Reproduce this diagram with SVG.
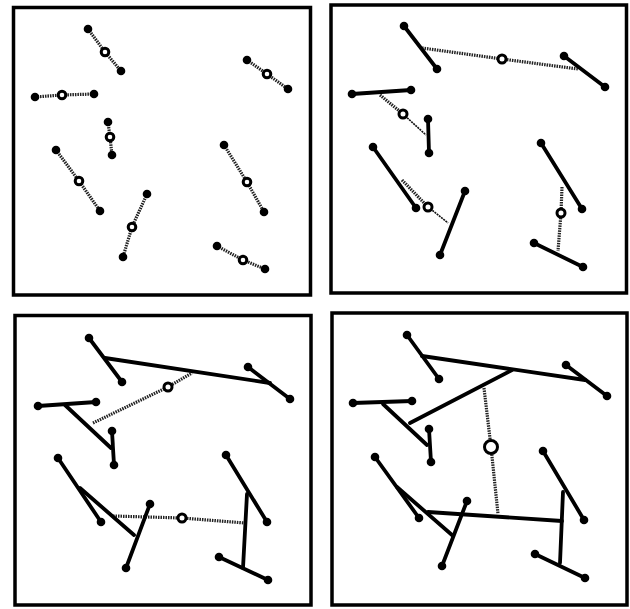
<svg xmlns="http://www.w3.org/2000/svg" width="630" height="609" viewBox="0 0 630 609">
<style>
.frame{fill:none;stroke:#000;stroke-width:3.5}
.bar{stroke:#000;stroke-width:3.8;stroke-linecap:round;fill:none}
.dot{fill:#000}
.spring{stroke:#222;stroke-width:3.2;stroke-dasharray:1.5 1;fill:none}
.thin{stroke:#111;stroke-width:1.6;stroke-dasharray:2 0.8;fill:none}
.ring{fill:#fff;stroke:#000;stroke-width:3}
</style>
<rect width="630" height="609" fill="#fff"/>
<g id="frames">
<rect class="frame" x="13.5" y="7.5" width="297" height="287.5"/>
<rect class="frame" x="331" y="5" width="295.5" height="288"/>
<rect class="frame" x="15" y="315.5" width="296" height="289.5"/>
<rect class="frame" x="332" y="313" width="295" height="292"/>
</g>
<g id="connectors">
<polyline class="spring" points="88,29 105,52 121,71"/>
<polyline class="spring" points="247,60 267,74 288,89"/>
<polyline class="spring" points="35,97 62,95 94,94"/>
<polyline class="spring" points="108,122 110,137 112,155"/>
<polyline class="spring" points="56,150 79,181 100,211"/>
<polyline class="spring" points="224,145 247,182 264,212"/>
<polyline class="spring" points="147,194 132,227 123,257"/>
<polyline class="spring" points="217,246 243,260 265,269"/>
<line class="spring" x1="422" y1="48" x2="502" y2="59"/>
<line class="spring" x1="502" y1="59" x2="578" y2="69"/>
<line class="spring" x1="380" y1="95" x2="403" y2="114"/>
<line class="thin" x1="403" y1="114" x2="426" y2="135"/>
<line class="spring" x1="402" y1="180" x2="428" y2="207"/>
<line class="thin" x1="428" y1="207" x2="448" y2="223"/>
<line class="spring" x1="562" y1="187" x2="561" y2="213"/>
<line class="spring" x1="561" y1="213" x2="558" y2="251"/>
<line class="spring" x1="93" y1="423" x2="168" y2="387"/>
<line class="spring" x1="168" y1="387" x2="192" y2="373"/>
<line class="spring" x1="113" y1="516" x2="182" y2="518"/>
<line class="spring" x1="182" y1="518" x2="245" y2="523"/>
<line class="spring" x1="484" y1="388" x2="491" y2="447"/>
<line class="spring" x1="491" y1="447" x2="498" y2="514"/>
</g>
<g id="panel1-nodes">
<g id="p1-d1"><circle class="dot" cx="88" cy="29" r="4.3"/><circle class="dot" cx="121" cy="71" r="4.3"/><circle class="ring" cx="105" cy="52" r="3.8"/></g>
<g id="p1-d2"><circle class="dot" cx="247" cy="60" r="4.3"/><circle class="dot" cx="288" cy="89" r="4.3"/><circle class="ring" cx="267" cy="74" r="3.8"/></g>
<g id="p1-d3"><circle class="dot" cx="35" cy="97" r="4.3"/><circle class="dot" cx="94" cy="94" r="4.3"/><circle class="ring" cx="62" cy="95" r="3.8"/></g>
<g id="p1-d4"><circle class="dot" cx="108" cy="122" r="4.3"/><circle class="dot" cx="112" cy="155" r="4.3"/><circle class="ring" cx="110" cy="137" r="3.8"/></g>
<g id="p1-d5"><circle class="dot" cx="56" cy="150" r="4.3"/><circle class="dot" cx="100" cy="211" r="4.3"/><circle class="ring" cx="79" cy="181" r="3.8"/></g>
<g id="p1-d6"><circle class="dot" cx="224" cy="145" r="4.3"/><circle class="dot" cx="264" cy="212" r="4.3"/><circle class="ring" cx="247" cy="182" r="3.8"/></g>
<g id="p1-d7"><circle class="dot" cx="147" cy="194" r="4.3"/><circle class="dot" cx="123" cy="257" r="4.3"/><circle class="ring" cx="132" cy="227" r="3.8"/></g>
<g id="p1-d8"><circle class="dot" cx="217" cy="246" r="4.3"/><circle class="dot" cx="265" cy="269" r="4.3"/><circle class="ring" cx="243" cy="260" r="3.8"/></g>
</g>
<g id="panel2-nodes">
<g id="p2-A"><line class="bar" x1="404" y1="26" x2="437" y2="69"/><circle class="dot" cx="404" cy="26" r="4.3"/><circle class="dot" cx="437" cy="69" r="4.3"/></g>
<g id="p2-B"><line class="bar" x1="564" y1="56" x2="605" y2="87"/><circle class="dot" cx="564" cy="56" r="4.3"/><circle class="dot" cx="605" cy="87" r="4.3"/></g>
<g id="p2-C"><line class="bar" x1="352" y1="94" x2="411" y2="90"/><circle class="dot" cx="352" cy="94" r="4.3"/><circle class="dot" cx="411" cy="90" r="4.3"/></g>
<g id="p2-D"><line class="bar" x1="428" y1="119" x2="429" y2="153"/><circle class="dot" cx="428" cy="119" r="4.3"/><circle class="dot" cx="429" cy="153" r="4.3"/></g>
<g id="p2-E"><line class="bar" x1="373" y1="147" x2="416" y2="208"/><circle class="dot" cx="373" cy="147" r="4.3"/><circle class="dot" cx="416" cy="208" r="4.3"/></g>
<g id="p2-F"><line class="bar" x1="465" y1="191" x2="440" y2="255"/><circle class="dot" cx="465" cy="191" r="4.3"/><circle class="dot" cx="440" cy="255" r="4.3"/></g>
<g id="p2-G"><line class="bar" x1="541" y1="143" x2="582" y2="209"/><circle class="dot" cx="541" cy="143" r="4.3"/><circle class="dot" cx="582" cy="209" r="4.3"/></g>
<g id="p2-H"><line class="bar" x1="534" y1="243" x2="583" y2="267"/><circle class="dot" cx="534" cy="243" r="4.3"/><circle class="dot" cx="583" cy="267" r="4.3"/></g>
<circle class="ring" cx="502" cy="59" r="4"/>
<circle class="ring" cx="403" cy="114" r="4"/>
<circle class="ring" cx="428" cy="207" r="4"/>
<circle class="ring" cx="561" cy="213" r="4"/>
</g>
<g id="panel3-nodes">
<g id="p3-A"><line class="bar" x1="89" y1="338" x2="122" y2="382"/><circle class="dot" cx="89" cy="338" r="4.3"/><circle class="dot" cx="122" cy="382" r="4.3"/></g>
<g id="p3-B"><line class="bar" x1="248" y1="367" x2="290" y2="399"/><circle class="dot" cx="248" cy="367" r="4.3"/><circle class="dot" cx="290" cy="399" r="4.3"/></g>
<g id="p3-AB"><line class="bar" x1="105" y1="358" x2="270" y2="383"/></g>
<g id="p3-C"><line class="bar" x1="38" y1="406" x2="96" y2="402"/><circle class="dot" cx="38" cy="406" r="4.3"/><circle class="dot" cx="96" cy="402" r="4.3"/></g>
<g id="p3-D"><line class="bar" x1="112" y1="431" x2="114" y2="465"/><circle class="dot" cx="112" cy="431" r="4.3"/><circle class="dot" cx="114" cy="465" r="4.3"/></g>
<g id="p3-CD"><line class="bar" x1="65" y1="405" x2="111" y2="448"/></g>
<g id="p3-E"><line class="bar" x1="58" y1="458" x2="101" y2="522"/><circle class="dot" cx="58" cy="458" r="4.3"/><circle class="dot" cx="101" cy="522" r="4.3"/></g>
<g id="p3-F"><line class="bar" x1="150" y1="504" x2="126" y2="568"/><circle class="dot" cx="150" cy="504" r="4.3"/><circle class="dot" cx="126" cy="568" r="4.3"/></g>
<g id="p3-EF"><line class="bar" x1="80" y1="488" x2="134" y2="535"/></g>
<g id="p3-G"><line class="bar" x1="226" y1="455" x2="267" y2="522"/><circle class="dot" cx="226" cy="455" r="4.3"/><circle class="dot" cx="267" cy="522" r="4.3"/></g>
<g id="p3-H"><line class="bar" x1="219" y1="557" x2="268" y2="580"/><circle class="dot" cx="219" cy="557" r="4.3"/><circle class="dot" cx="268" cy="580" r="4.3"/></g>
<g id="p3-GH"><line class="bar" x1="247" y1="494" x2="243" y2="568"/></g>
<circle class="ring" cx="168" cy="387" r="4"/>
<circle class="ring" cx="182" cy="518" r="4"/>
</g>
<g id="panel4-nodes">
<g id="p4-A"><line class="bar" x1="407" y1="335" x2="439" y2="379"/><circle class="dot" cx="407" cy="335" r="4.3"/><circle class="dot" cx="439" cy="379" r="4.3"/></g>
<g id="p4-B"><line class="bar" x1="566" y1="365" x2="607" y2="396"/><circle class="dot" cx="566" cy="365" r="4.3"/><circle class="dot" cx="607" cy="396" r="4.3"/></g>
<g id="p4-AB"><line class="bar" x1="422" y1="356" x2="585" y2="380"/></g>
<g id="p4-C"><line class="bar" x1="353" y1="403" x2="412" y2="401"/><circle class="dot" cx="353" cy="403" r="4.3"/><circle class="dot" cx="412" cy="401" r="4.3"/></g>
<g id="p4-D"><line class="bar" x1="429" y1="429" x2="431" y2="462"/><circle class="dot" cx="429" cy="429" r="4.3"/><circle class="dot" cx="431" cy="462" r="4.3"/></g>
<g id="p4-CD"><line class="bar" x1="383" y1="404" x2="427" y2="445"/></g>
<g id="p4-ABCD"><line class="bar" x1="410" y1="423" x2="512" y2="370"/></g>
<g id="p4-E"><line class="bar" x1="375" y1="457" x2="419" y2="518"/><circle class="dot" cx="375" cy="457" r="4.3"/><circle class="dot" cx="419" cy="518" r="4.3"/></g>
<g id="p4-F"><line class="bar" x1="467" y1="501" x2="442" y2="566"/><circle class="dot" cx="467" cy="501" r="4.3"/><circle class="dot" cx="442" cy="566" r="4.3"/></g>
<g id="p4-EF"><line class="bar" x1="397" y1="487" x2="452" y2="535"/></g>
<g id="p4-G"><line class="bar" x1="543" y1="451" x2="584" y2="520"/><circle class="dot" cx="543" cy="451" r="4.3"/><circle class="dot" cx="584" cy="520" r="4.3"/></g>
<g id="p4-H"><line class="bar" x1="535" y1="554" x2="585" y2="578"/><circle class="dot" cx="535" cy="554" r="4.3"/><circle class="dot" cx="585" cy="578" r="4.3"/></g>
<g id="p4-GH"><line class="bar" x1="563" y1="492" x2="560" y2="563"/></g>
<g id="p4-EFGH"><line class="bar" x1="428" y1="512" x2="562" y2="521"/></g>
<circle class="ring" cx="491" cy="447" r="6.5"/>
</g>
</svg>
